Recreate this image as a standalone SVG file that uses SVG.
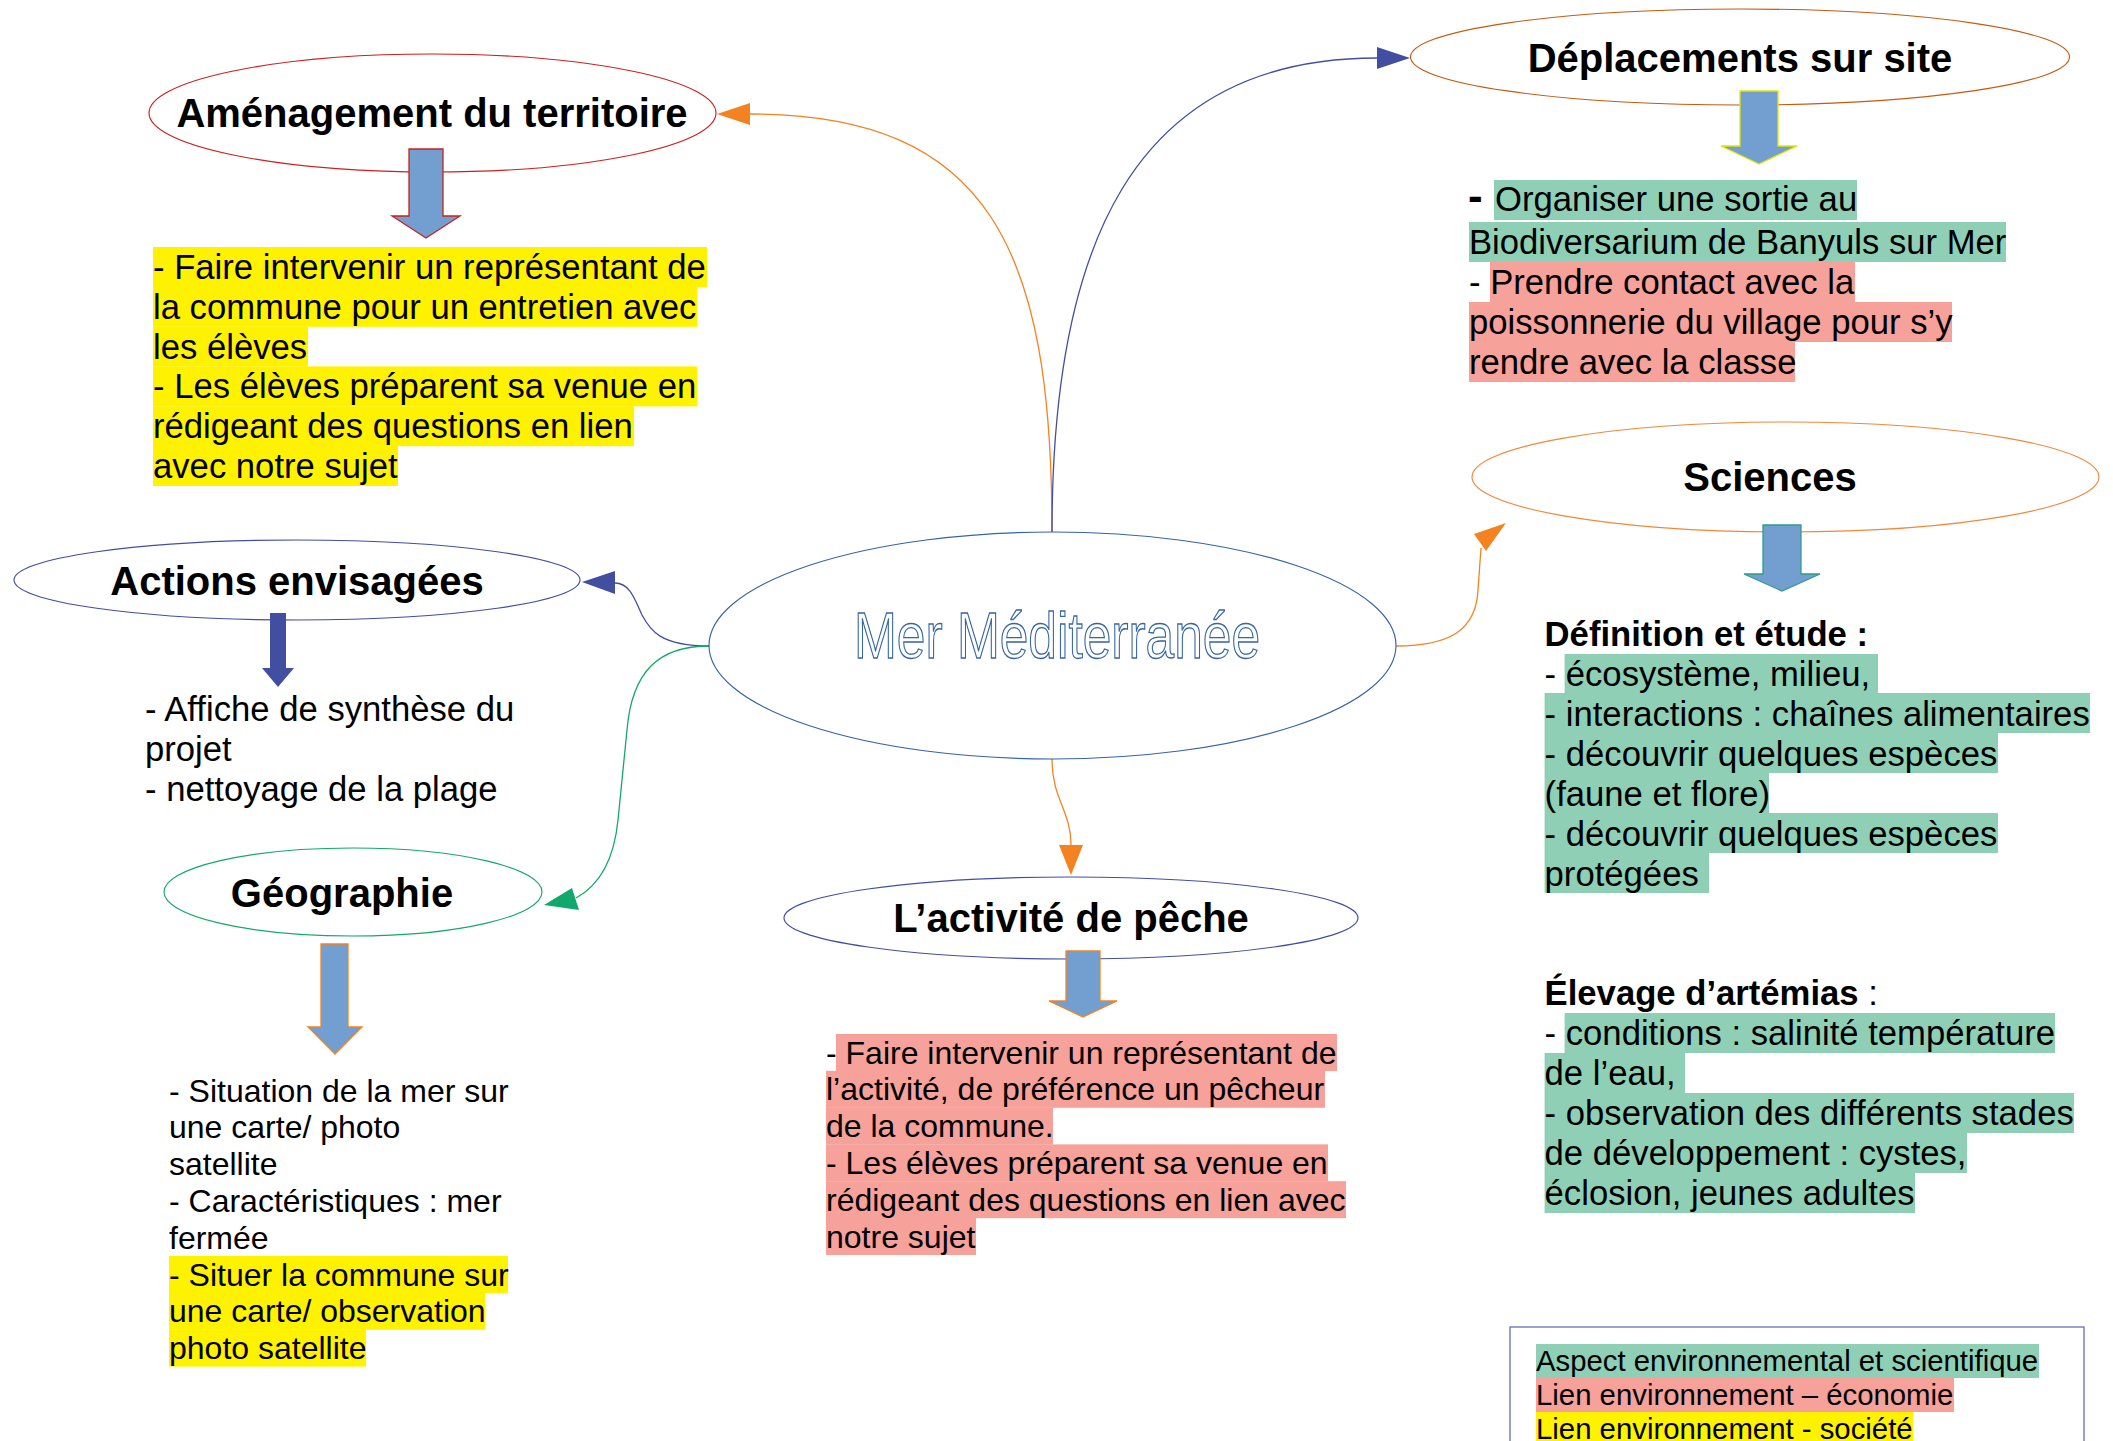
<svg xmlns="http://www.w3.org/2000/svg" width="2113" height="1441" viewBox="0 0 2113 1441">
<style>
text{font-family:"Liberation Sans",Arial,sans-serif;fill:#000}
.t{font-size:40px;font-weight:bold;text-anchor:middle}
.b{font-size:34.67px}
.s{font-size:32px}
.l{font-size:29.33px}
.hb{font-weight:bold}
.ell{fill:#fff;stroke-width:1.15}
.g{fill:#8ecfb5}
.p{fill:#f6a19a}
.y{fill:#fff200}
.conn{fill:none;stroke-width:1.3}
.arr{fill:#729fcf;stroke-width:1.3}
.or{stroke:#f58220}
.bl{stroke:#424ea0}
.gr{stroke:#12a86b}
</style>
<rect width="2113" height="1441" fill="#fff"/>

<g id="connectors">
  <path class="conn or" d="M1052,532 C1052,250 990,114 750,114"/>
  <polygon points="717,114 750,103 750,125" fill="#f58220"/>
  <path class="conn bl" d="M1052,532 C1052,250 1130,58 1377,58"/>
  <polygon points="1410,58 1377,47 1377,69" fill="#424ea0"/>
  <path class="conn bl" d="M709,646 C660,646 650,630 642,615 C635,600 630,583 615,583"/>
  <polygon points="582,582 615,571 615,594" fill="#424ea0"/>
  <path class="conn gr" d="M709,646 C660,646 632,670 627,730 L618,820 C614,860 600,885 576,898"/>
  <polygon points="544,905 572,888 579,910" fill="#12a86b"/>
  <path class="conn or" d="M1396,646 C1450,646 1476,630 1478,590 L1481,548"/>
  <polygon points="1506,523 1474,534 1486,551" fill="#f58220"/>
  <path class="conn or" d="M1052,759 C1052,800 1071,810 1071,845"/>
  <polygon points="1071,875 1059,845 1083,845" fill="#f58220"/>
</g>

<g id="center">
  <ellipse class="ell" cx="1052.5" cy="645.5" rx="343.5" ry="113.5" stroke="#3465a4"/>
  <text x="1057" y="658" font-size="64" text-anchor="middle" textLength="406" lengthAdjust="spacingAndGlyphs" style="fill:#fff;stroke:#3465a4;stroke-width:1.3">Mer Méditerranée</text>
</g>

<g id="amenagement">
  <ellipse class="ell" cx="432.5" cy="113" rx="283.5" ry="59" stroke="#c9211e"/>
  <text class="t" x="432" y="127">Aménagement du territoire</text>
  <polygon class="arr" stroke="#c9211e" points="409,149 443,149 443,216 460,216 426,238 392,216 409,216"/>
  <rect class="y" x="153" y="247" width="554" height="40"/>
  <rect class="y" x="153" y="286.8" width="544" height="40"/>
  <rect class="y" x="153" y="326.6" width="155" height="40"/>
  <rect class="y" x="153" y="366.4" width="544" height="40"/>
  <rect class="y" x="153" y="406.2" width="481" height="40"/>
  <rect class="y" x="153" y="446" width="245" height="40"/>
  <text class="b" x="153" y="279">- Faire intervenir un représentant de</text>
  <text class="b" x="153" y="318.8">la commune pour un entretien avec</text>
  <text class="b" x="153" y="358.6">les élèves</text>
  <text class="b" x="153" y="398.4">- Les élèves préparent sa venue en</text>
  <text class="b" x="153" y="438.2">rédigeant des questions en lien</text>
  <text class="b" x="153" y="478">avec notre sujet</text>
</g>

<g id="deplacements">
  <ellipse class="ell" cx="1740" cy="57" rx="329.5" ry="48" stroke="#c55a11"/>
  <text class="t" x="1740" y="72">Déplacements sur site</text>
  <polygon class="arr" stroke="#e6e600" points="1740,91 1778,91 1778,146 1797,146 1759,164 1721,146 1740,146"/>
  <rect class="g" x="1494" y="180" width="363" height="40"/>
  <rect class="g" x="1469" y="222" width="537" height="40"/>
  <rect class="p" x="1490" y="262" width="365" height="40"/>
  <rect class="p" x="1469" y="302" width="483" height="40"/>
  <rect class="p" x="1469" y="342" width="326" height="40"/>
  <text x="1468" y="211" font-size="44" font-weight="bold">-</text>
  <text class="b" x="1495" y="211">Organiser une sortie au</text>
  <text class="b" x="1469" y="254">Biodiversarium de Banyuls sur Mer</text>
  <text class="b" x="1469" y="294">- Prendre contact avec la</text>
  <text class="b" x="1469" y="334">poissonnerie du village pour s’y</text>
  <text class="b" x="1469" y="374">rendre avec la classe</text>
</g>

<g id="sciences">
  <ellipse class="ell" cx="1785.5" cy="477" rx="313.5" ry="55" stroke="#f0883a"/>
  <text class="t" x="1770" y="491">Sciences</text>
  <polygon class="arr" stroke="#2e9c8c" points="1763,525 1801,525 1801,574 1820,574 1782,591 1744,574 1763,574"/>
  <text class="b hb" x="1544.6" y="646">Définition et étude :</text>
  <rect class="g" x="1564.6" y="654" width="313.4" height="40"/>
  <rect class="g" x="1544.6" y="693" width="545.4" height="40"/>
  <rect class="g" x="1544.6" y="733" width="453.4" height="40"/>
  <rect class="g" x="1544.6" y="773" width="224.4" height="40"/>
  <rect class="g" x="1544.6" y="813" width="453.4" height="40"/>
  <rect class="g" x="1544.6" y="853" width="164.4" height="40"/>
  <text class="b" x="1544.6" y="686">- écosystème, milieu,</text>
  <text class="b" x="1544.6" y="726">- interactions : chaînes alimentaires</text>
  <text class="b" x="1544.6" y="766">- découvrir quelques espèces</text>
  <text class="b" x="1544.6" y="806">(faune et flore)</text>
  <text class="b" x="1544.6" y="846">- découvrir quelques espèces</text>
  <text class="b" x="1544.6" y="886">protégées</text>
  <text class="b" x="1544.6" y="1005"><tspan font-weight="bold">Élevage d’artémias</tspan> :</text>
  <rect class="g" x="1564.6" y="1013" width="490.4" height="40"/>
  <rect class="g" x="1544.6" y="1053" width="140.4" height="40"/>
  <rect class="g" x="1544.6" y="1093" width="529.4" height="40"/>
  <rect class="g" x="1544.6" y="1133" width="422.4" height="40"/>
  <rect class="g" x="1544.6" y="1173" width="370.4" height="40"/>
  <text class="b" x="1544.6" y="1045">- conditions : salinité température</text>
  <text class="b" x="1544.6" y="1085">de l’eau,</text>
  <text class="b" x="1544.6" y="1125">- observation des différents stades</text>
  <text class="b" x="1544.6" y="1165">de développement : cystes,</text>
  <text class="b" x="1544.6" y="1205">éclosion, jeunes adultes</text>
</g>

<g id="legend">
  <rect x="1510" y="1327" width="574" height="140" fill="none" stroke="#5b64b0" stroke-width="1.2"/>
  <rect class="g" x="1536" y="1344" width="503" height="34"/>
  <rect class="p" x="1536" y="1378" width="418" height="34"/>
  <rect class="y" x="1536" y="1412" width="377" height="34"/>
  <text class="l" x="1536" y="1371">Aspect environnemental et scientifique</text>
  <text class="l" x="1536" y="1405">Lien environnement – économie</text>
  <text class="l" x="1536" y="1439">Lien environnement - société</text>
</g>

<g id="actions">
  <ellipse class="ell" cx="297" cy="580" rx="283" ry="40" stroke="#424ea0"/>
  <text class="t" x="297" y="595">Actions envisagées</text>
  <polygon fill="#424ea0" points="270,613 286,613 286,668 294,668 278,687 262,668 270,668"/>
  <text class="b" x="145" y="721">- Affiche de synthèse du</text>
  <text class="b" x="145" y="761">projet</text>
  <text class="b" x="145" y="801">- nettoyage de la plage</text>
</g>

<g id="geographie">
  <ellipse class="ell" cx="353" cy="892" rx="189" ry="44" stroke="#12a86b"/>
  <text class="t" x="342" y="907">Géographie</text>
  <polygon class="arr" stroke="#f58220" points="321,944 348,944 348,1027 362,1027 335,1054 308,1027 321,1027"/>
  <rect class="y" x="169" y="1256" width="339" height="37"/>
  <rect class="y" x="169" y="1292.8" width="316" height="37"/>
  <rect class="y" x="169" y="1329.6" width="197" height="37"/>
  <text class="s" x="169" y="1101.5">- Situation de la mer sur</text>
  <text class="s" x="169" y="1138.3">une carte/ photo</text>
  <text class="s" x="169" y="1175.1">satellite</text>
  <text class="s" x="169" y="1211.9">- Caractéristiques : mer</text>
  <text class="s" x="169" y="1248.7">fermée</text>
  <text class="s" x="169" y="1285.5">- Situer la commune sur</text>
  <text class="s" x="169" y="1322.3">une carte/ observation</text>
  <text class="s" x="169" y="1359.1">photo satellite</text>
</g>

<g id="peche">
  <ellipse class="ell" cx="1071" cy="918" rx="287" ry="41" stroke="#424ea0"/>
  <text class="t" x="1071" y="932">L’activité de pêche</text>
  <polygon class="arr" stroke="#f58220" points="1066,951 1100,951 1100,1001 1117,1001 1083,1017 1049,1001 1066,1001"/>
  <rect class="p" x="836" y="1034" width="501" height="37"/>
  <rect class="p" x="826" y="1070.8" width="499" height="37"/>
  <rect class="p" x="826" y="1107.6" width="227" height="37"/>
  <rect class="p" x="826" y="1144.4" width="502" height="37"/>
  <rect class="p" x="826" y="1181.2" width="520" height="37"/>
  <rect class="p" x="826" y="1218" width="150" height="37"/>
  <text class="s" x="826" y="1063.5">- Faire intervenir un représentant de</text>
  <text class="s" x="826" y="1100.3">l’activité, de préférence un pêcheur</text>
  <text class="s" x="826" y="1137.1">de la commune.</text>
  <text class="s" x="826" y="1173.9">- Les élèves préparent sa venue en</text>
  <text class="s" x="826" y="1210.7">rédigeant des questions en lien avec</text>
  <text class="s" x="826" y="1247.5">notre sujet</text>
</g>
</svg>
